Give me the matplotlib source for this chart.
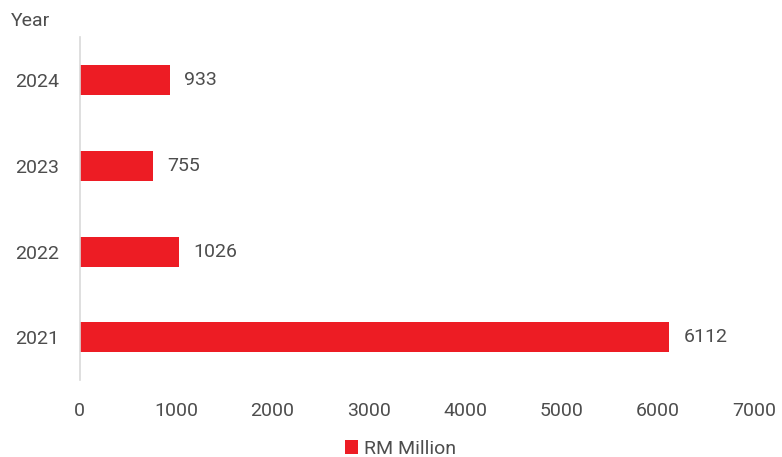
import matplotlib.pyplot as plt

years = ["2021", "2022", "2023", "2024"]
values = [6112, 1026, 755, 933]
series_name = "RM Million"

red = "#ED1C24"
grey = "#4D4D4D"

plt.rcParams['font.family'] = ['Roboto', 'DejaVu Sans']

fig = plt.figure(figsize=(7.82, 4.57), dpi=100)
ax = fig.add_axes([0.102, 0.168, 0.863, 0.751])

bars = ax.barh(years, values, height=0.35, color=red, label=series_name)
for b, v in zip(bars, values):
    ax.text(b.get_width() + 150, b.get_y() + b.get_height() / 2, str(v),
            va='center', ha='left', fontsize=14, color=grey)

ax.set_xlim(0, 7000)
ax.set_ylim(-0.5, 3.5)
ax.set_xticks(range(0, 7001, 1000))

for s in ['top', 'right', 'bottom']:
    ax.spines[s].set_visible(False)
ax.spines['left'].set_color('#D9D9D9')
ax.spines['left'].set_linewidth(1.2)

ax.tick_params(axis='both', length=0, labelsize=14, labelcolor=grey)
ax.tick_params(axis='y', pad=15)
ax.tick_params(axis='x', pad=16)

fig.text(0.014, 0.955, "Year", fontsize=14, color=grey, va='center', ha='left')

ax.legend(loc='center', bbox_to_anchor=(0.475, -0.2), frameon=False,
          fontsize=14, labelcolor=grey, handlelength=0.7, handleheight=0.7,
          handletextpad=0.3)

fig.savefig("out.png", dpi=100)
